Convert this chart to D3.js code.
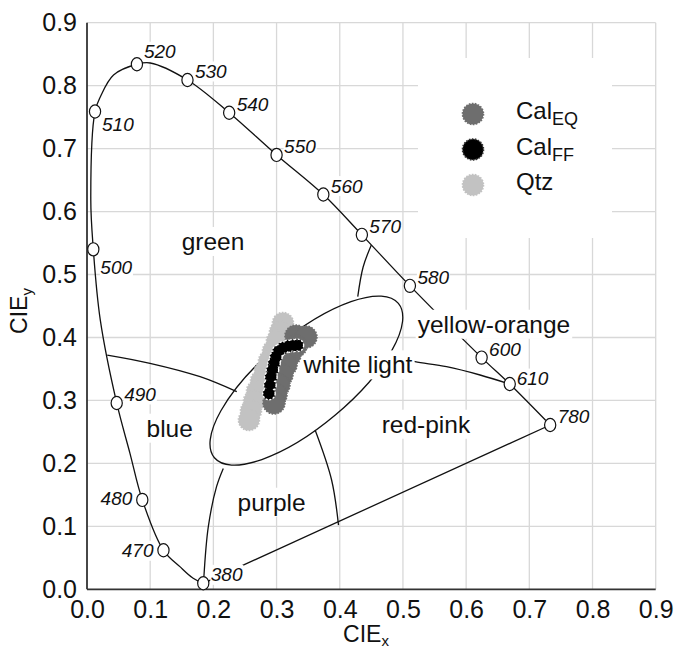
<!DOCTYPE html>
<html>
<head>
<meta charset="utf-8">
<script src="https://cdn.jsdelivr.net/npm/d3@7"></script>
<style>
  body { margin: 0; background: #fff; }
  svg { display: block; font-family: "Liberation Sans", Arial, sans-serif; }
</style>
</head>
<body>
<svg id="chart" width="675" height="648"></svg>
<script>
// ---- data ----
const xTicks = [0, 0.1, 0.2, 0.3, 0.4, 0.5, 0.6, 0.7, 0.8, 0.9];
const yTicks = [0, 0.1, 0.2, 0.3, 0.4, 0.5, 0.6, 0.7, 0.8, 0.9];

// spectral locus, 380 -> 780 nm (null = shape point without a marker)
const locusWl = [380, null, null, 470, 480, null, 490, null, 500, null, 510, null, null, 520, null, 530, 540, 550, 560, 570, 580, 600, 610, 780];
const locusX  = [0.184, 0.168, 0.147, 0.121, 0.0875, 0.068, 0.047, 0.021, 0.010, 0.006, 0.0127, 0.021, 0.042, 0.079, 0.100, 0.159, 0.225, 0.300, 0.374, 0.435, 0.511, 0.6245, 0.669, 0.733];
const locusY  = [0.0095, 0.0175, 0.036, 0.062, 0.142, 0.216, 0.296, 0.428, 0.540, 0.619, 0.759, 0.782, 0.817, 0.834, 0.836, 0.809, 0.757, 0.690, 0.627, 0.563, 0.482, 0.368, 0.326, 0.261];

// colour region borders
const greenBlueX   = [0.032, 0.0997, 0.179, 0.237];
const greenBlueY   = [0.372, 0.359, 0.3377, 0.314];
const bluePurpleX  = [0.2157, 0.205, 0.192, 0.185];
const bluePurpleY  = [0.192, 0.163, 0.0995, 0.02];
const purpleRedX   = [0.361, 0.387, 0.398];
const purpleRedY   = [0.253, 0.174, 0.102];
const whiteRedX    = [0.490, 0.519, 0.569, 0.622, 0.669];
const whiteRedY    = [0.368, 0.3615, 0.3536, 0.3404, 0.326];
const yellowWhiteX = [0.450, 0.437, 0.4285];
const yellowWhiteY = [0.547, 0.512, 0.465];

// white light ellipse: centre, semi axes, tilt (deg)
const whiteCentre = [0.3472, 0.3315];
const whiteAxes = [0.19, 0.0712];
const whiteTilt = 40;

const regionNames = ["green", "blue", "purple", "white light", "red-pink", "yellow-orange"];
const regionX = [0.1994, 0.1309, 0.2922, 0.4288, 0.5364, 0.644];
const regionY = [0.539, 0.2424, 0.1248, 0.343, 0.2487, 0.4075];

// chromaticity samples
const qtzX   = [0.3101, 0.3054, 0.3006, 0.2943, 0.2880, 0.2816, 0.2753, 0.2690, 0.2642, 0.2595, 0.2563];
const qtzY   = [0.4230, 0.4087, 0.3944, 0.3785, 0.3626, 0.3467, 0.3308, 0.3149, 0.2990, 0.2832, 0.2689];
const calEqX = [0.3307, 0.3465, 0.3307, 0.3212, 0.3149, 0.3085, 0.3038, 0.2991, 0.2959];
const calEqY = [0.4023, 0.4007, 0.3864, 0.3721, 0.3562, 0.3404, 0.3245, 0.3086, 0.2959];
const calFfX = [0.3330, 0.3260, 0.3180, 0.3101, 0.3030, 0.2990, 0.2960, 0.2935, 0.2911, 0.2896, 0.2880];
const calFfY = [0.3875, 0.3870, 0.3860, 0.3833, 0.3780, 0.3690, 0.3590, 0.3483, 0.3370, 0.3240, 0.3110];

const seriesNames = ["Cal", "Cal", "Qtz"];
const seriesSubs = ["EQ", "FF", ""];

// ---- layout ----
const svg = d3.select("#chart");
const margin = { top: 22.7, right: 19.3, bottom: 58.7, left: 87 };
const width = 675 - margin.left - margin.right;
const height = 648 - margin.top - margin.bottom;

const x = d3.scaleLinear().domain([0, 0.9]).range([margin.left, margin.left + width]);
const y = d3.scaleLinear().domain([0, 0.9]).range([margin.top + height, margin.top]);

const zip = (xs, ys) => xs.map((v, i) => [v, ys[i]]);
const curve = d3.line().x(d => x(d[0])).y(d => y(d[1])).curve(d3.curveCatmullRom.alpha(0.5));

// grid
svg.append("g").selectAll("line").data(xTicks.slice(1)).enter().append("line")
    .attr("x1", d => x(d)).attr("x2", d => x(d))
    .attr("y1", y(0)).attr("y2", y(0.9))
    .attr("stroke", "#d8d8d8").attr("stroke-width", 1.3);
svg.append("g").selectAll("line").data(yTicks.slice(1)).enter().append("line")
    .attr("y1", d => y(d)).attr("y2", d => y(d))
    .attr("x1", x(0)).attr("x2", x(0.9))
    .attr("stroke", "#d8d8d8").attr("stroke-width", 1.3);

// legend box hides the grid
svg.append("rect").attr("x", 418).attr("y", 58).attr("width", 194).attr("height", 180).attr("fill", "#fff");

// axes
svg.append("line").attr("x1", x(0)).attr("x2", x(0)).attr("y1", y(0.9)).attr("y2", y(0))
    .attr("stroke", "#333").attr("stroke-width", 1.8);
svg.append("line").attr("x1", x(0)).attr("x2", x(0.9)).attr("y1", y(0)).attr("y2", y(0))
    .attr("stroke", "#333").attr("stroke-width", 1.8);

const xAxis = svg.append("g")
    .attr("transform", `translate(0,${y(0)})`)
    .call(d3.axisBottom(x).tickValues(xTicks).tickSize(0).tickFormat(d3.format(".1f")));
xAxis.select(".domain").remove();
xAxis.attr("font-size", 25).attr("font-family", null);
xAxis.selectAll("text").attr("y", 29).attr("dy", null).attr("fill", "#111");

const yAxis = svg.append("g")
    .attr("transform", `translate(${x(0)},0)`)
    .call(d3.axisLeft(y).tickValues(yTicks).tickSize(0).tickPadding(10).tickFormat(d3.format(".1f")));
yAxis.select(".domain").remove();
yAxis.attr("font-size", 25).attr("font-family", null);
yAxis.selectAll("text").attr("fill", "#111");

// axis titles
const xt = svg.append("text").attr("x", 366).attr("y", 642).attr("text-anchor", "middle")
    .attr("font-size", 23).attr("fill", "#111");
xt.append("tspan").text("CIE");
xt.append("tspan").attr("dy", 4).attr("font-size", 15).text("x");

const yt = svg.append("text").attr("transform", "translate(27,311) rotate(-90)")
    .attr("text-anchor", "middle").attr("font-size", 23).attr("fill", "#111");
yt.append("tspan").text("CIE");
yt.append("tspan").attr("dy", 5).attr("font-size", 15).text("y");

// region borders
const borders = [
    zip(greenBlueX, greenBlueY), zip(bluePurpleX, bluePurpleY), zip(purpleRedX, purpleRedY),
    zip(whiteRedX, whiteRedY), zip(yellowWhiteX, yellowWhiteY)
];
svg.append("g").selectAll("path").data(borders).enter().append("path")
    .attr("d", curve).attr("fill", "none").attr("stroke", "#111").attr("stroke-width", 1.3);

// white light ellipse
const ecx = x(whiteCentre[0]), ecy = y(whiteCentre[1]);
svg.append("ellipse")
    .attr("cx", ecx).attr("cy", ecy)
    .attr("rx", x(whiteAxes[0]) - x(0)).attr("ry", x(whiteAxes[1]) - x(0))
    .attr("transform", `rotate(${-whiteTilt},${ecx},${ecy})`)
    .attr("fill", "none").attr("stroke", "#111").attr("stroke-width", 1.3);

// spectral locus + line of purples
const locus = zip(locusX, locusY);
svg.append("path").attr("d", curve(locus)).attr("fill", "none").attr("stroke", "#111").attr("stroke-width", 1.3);
svg.append("line")
    .attr("x1", x(locusX[0])).attr("y1", y(locusY[0]))
    .attr("x2", x(locusX[locusX.length - 1])).attr("y2", y(locusY[locusY.length - 1]))
    .attr("stroke", "#111").attr("stroke-width", 1.3);

// text with a white patch behind it
function labelWithBg(g, pad) {
    g.each(function () {
        const b = this.getBBox();
        d3.select(this.parentNode).insert("rect", () => this)
            .attr("x", b.x - pad).attr("y", b.y - pad + 1)
            .attr("width", b.width + 2 * pad).attr("height", b.height + 2 * pad - 2)
            .attr("fill", "#fff");
    });
}

// region names
const regions = svg.append("g").selectAll("g").data(regionNames).enter().append("g");
const regionText = regions.append("text")
    .attr("x", (d, i) => x(regionX[i])).attr("y", (d, i) => y(regionY[i]))
    .attr("text-anchor", "middle").attr("font-size", 24.5).attr("fill", "#111")
    .text(d => d);
labelWithBg(regionText, 2);

// wavelength labels: offset from marker [dx, dy, anchor]
const wlPlace = { 510: [7, 20, "start"], 500: [7, 25, "start"], 520: [7, -6, "start"],
                  480: [-10, 5, "end"], 470: [-10, 7, "end"], 610: [7, 1, "start"] };
const marked = locus.map((p, i) => ({ wl: locusWl[i], x: p[0], y: p[1] })).filter(d => d.wl !== null);
const wlG = svg.append("g").selectAll("g").data(marked).enter().append("g");
const wlText = wlG.append("text")
    .attr("x", d => x(d.x) + (wlPlace[d.wl] ? wlPlace[d.wl][0] : 7.5))
    .attr("y", d => y(d.y) + (wlPlace[d.wl] ? wlPlace[d.wl][1] : -2))
    .attr("text-anchor", d => wlPlace[d.wl] ? wlPlace[d.wl][2] : "start")
    .attr("font-size", 19).attr("font-style", "italic").attr("fill", "#111")
    .text(d => d.wl);
labelWithBg(wlText, 0.5);

svg.append("g").selectAll("ellipse").data(marked).enter().append("ellipse")
    .attr("cx", d => x(d.x)).attr("cy", d => y(d.y))
    .attr("rx", 5.6).attr("ry", 6.6)
    .attr("fill", "#fff").attr("stroke", "#111").attr("stroke-width", 1.2);

// sample clouds
function cloud(xs, ys, r, fill) {
    svg.append("g").selectAll("circle").data(zip(xs, ys)).enter().append("circle")
        .attr("cx", d => x(d[0])).attr("cy", d => y(d[1])).attr("r", r)
        .attr("fill", fill).attr("stroke", fill).attr("stroke-width", 1.6)
        .attr("stroke-dasharray", "1.6,1.4");
}
cloud(qtzX, qtzY, 10.5, "#c2c2c2");
cloud(calEqX, calEqY, 11, "#6e6e6e");

const ff = zip(calFfX, calFfY);
svg.append("g").selectAll("circle").data(ff).enter().append("circle")
    .attr("cx", d => x(d[0])).attr("cy", d => y(d[1])).attr("r", 6.2)
    .attr("fill", "#000").attr("stroke", "#fff").attr("stroke-width", 1.4)
    .attr("stroke-dasharray", "2,1.6");
svg.append("g").selectAll("circle").data(ff).enter().append("circle")
    .attr("cx", d => x(d[0])).attr("cy", d => y(d[1])).attr("r", 5)
    .attr("fill", "#000");

// legend
const legendColors = ["#6e6e6e", "#000", "#c2c2c2"];
const legend = svg.append("g").selectAll("g").data(seriesNames).enter().append("g")
    .attr("transform", (d, i) => `translate(473,${114 + i * 35.5})`);
legend.append("circle").attr("r", 10.5)
    .attr("fill", (d, i) => legendColors[i]).attr("stroke", (d, i) => i === 1 ? "#333" : legendColors[i])
    .attr("stroke-width", 1.6).attr("stroke-dasharray", "1.6,1.4");
const lt = legend.append("text").attr("x", 43).attr("y", 5).attr("font-size", 24).attr("fill", "#111");
lt.append("tspan").text(d => d);
lt.append("tspan").attr("dy", 6).attr("font-size", 18).text((d, i) => seriesSubs[i]);
</script>
</body>
</html>
